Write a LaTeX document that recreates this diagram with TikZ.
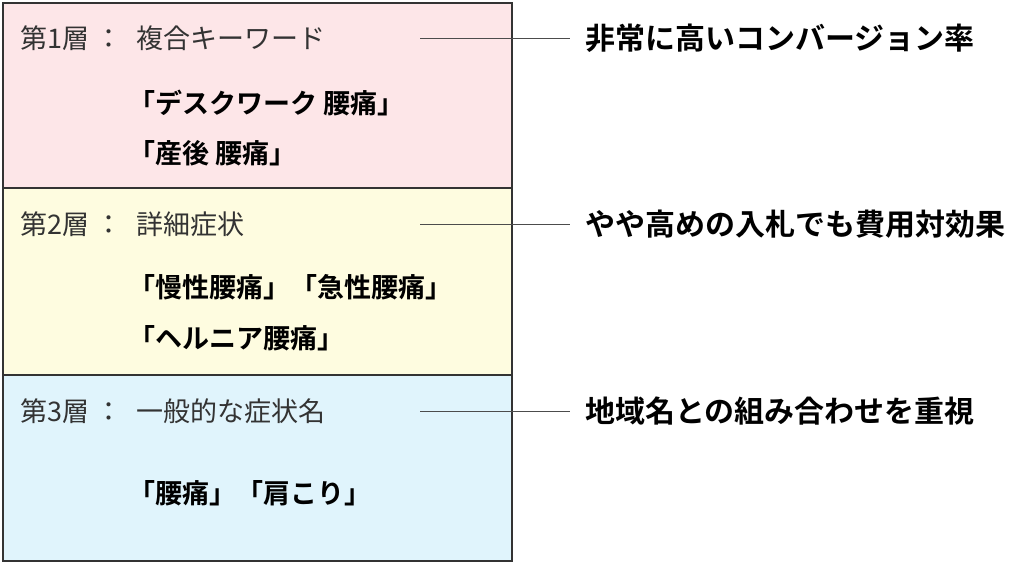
\documentclass[tikz,border=0pt]{standalone}
\usepackage{fontspec}
\setmainfont{Noto Sans CJK JP}[BoldFont={Noto Sans CJK JP Bold}]
\definecolor{pinkbg}{HTML}{FDE6E8}
\definecolor{yelbg}{HTML}{FEFCE0}
\definecolor{bluebg}{HTML}{E0F4FC}
\definecolor{tgray}{HTML}{333333}
\begin{document}
\begin{tikzpicture}[x=1pt,y=-1pt,
  layer/.style={draw=black!80,line width=1.6pt},
  head/.style={anchor=west,font=\fontsize{27}{30}\selectfont,text=tgray,inner sep=0},
  kw/.style={anchor=west,font=\fontsize{27}{30}\selectfont\bfseries,inner sep=0},
  note/.style={anchor=west,font=\fontsize{30}{33}\selectfont\bfseries,inner sep=0},
  lead/.style={draw=black!70,line width=0.8pt}]
\useasboundingbox (0,0) rectangle (1024,564);
\filldraw[layer,fill=pinkbg] (3,3) rectangle (512,188);
\filldraw[layer,fill=yelbg] (3,188) rectangle (512,375);
\filldraw[layer,fill=bluebg] (3,375) rectangle (512,561);
\node[head] (h1) at (20,38) {第1層\hspace{6pt}：\hspace{14pt}複合キーワード};
\node[kw] (k1a) at (128,103) {「デスクワーク 腰痛」};
\node[kw] (k1b) at (128,153) {「産後 腰痛」};
\node[head] (h2) at (20,224) {第2層\hspace{6pt}：\hspace{14pt}詳細症状};
\node[kw] (k2a) at (128,287) {「慢性腰痛」「急性腰痛」};
\node[kw] (k2b) at (128,338) {「ヘルニア腰痛」};
\node[head] (h3) at (20,411) {第3層\hspace{6pt}：\hspace{14pt}一般的な症状名};
\node[kw] (k3a) at (128,493) {「腰痛」「肩こり」};
\node[note] (n1) at (585,38) {非常に高いコンバージョン率};
\node[note] (n2) at (585,224) {やや高めの入札でも費用対効果};
\node[note] (n3) at (585,411) {地域名との組み合わせを重視};
\coordinate (c1) at (420,38); \coordinate (c2) at (420,224); \coordinate (c3) at (420,411);
\draw[lead] (c1) -- (n1.west -| 570,0);
\draw[lead] (c2) -- (n2.west -| 570,0);
\draw[lead] (c3) -- (n3.west -| 570,0);
\end{tikzpicture}
\end{document}
